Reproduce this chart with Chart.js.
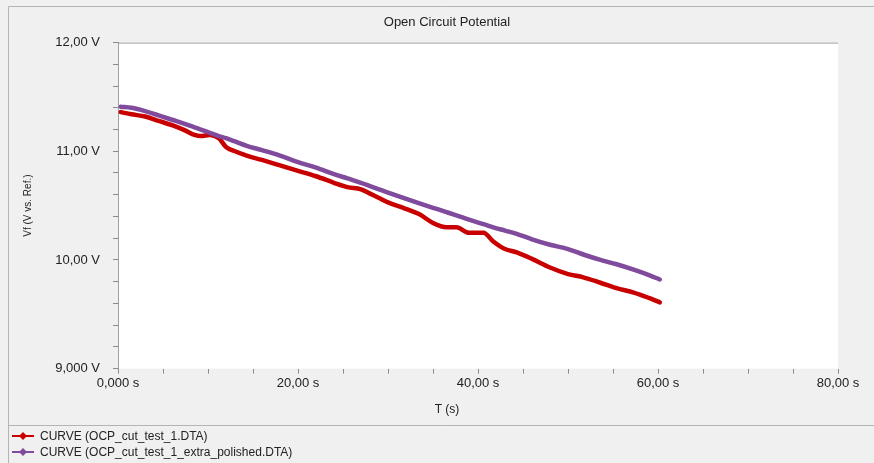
<!DOCTYPE html>
<html lang="en">
<head>
  <meta charset="UTF-8" />
  <title>Open Circuit Potential</title>
  <style>
    body {
      margin: 0;
      background: #f0f0f0;
      font-family: "Liberation Sans", Arial, sans-serif;
    }
    #wrap {
      position: relative;
      width: 874px;
      height: 463px;
    }
    #legend {
      position: absolute;
      left: 12px;
      top: 428px;
      font-size: 12px;
      color: #222;
    }
    .item {
      height: 16px;
      display: flex;
      align-items: center;
    }
    .item svg {
      margin-right: 6px;
    }
  </style>
</head>
<body>
  <div id="wrap">
    <canvas id="chart" width="874" height="463"></canvas>
    <div id="legend"></div>
  </div>

  <script src="https://cdn.jsdelivr.net/npm/chart.js"></script>
  <script>
    const times = [0.3, 1.5, 3, 4.5, 6, 7.5, 8.5, 9.2, 10.2, 11.2, 12, 13, 14.3, 16, 18, 20, 22, 24, 25.5, 27,
                   28, 29, 30, 31.7, 33.5, 35, 36.5, 37.6, 39, 40.6, 41.7, 43, 44.3, 46, 48, 50, 51.7, 53.6, 55.4, 57.3,
                   59, 60.2];
    const cutTest = [11.36, 11.34, 11.32, 11.28, 11.24, 11.19, 11.15, 11.14, 11.15, 11.12, 11.04, 11.00, 10.96, 10.92, 10.87, 10.82, 10.77, 10.71, 10.67, 10.65,
                     10.61, 10.57, 10.53, 10.48, 10.42, 10.34, 10.30, 10.30, 10.25, 10.25, 10.17, 10.10, 10.07, 10.01, 9.93, 9.87, 9.84, 9.79, 9.74, 9.70,
                     9.65, 9.61];
    const extraPolished = [11.41, 11.40, 11.37, 11.33, 11.29, 11.25, 11.22, 11.20, 11.17, 11.14, 11.12, 11.09, 11.05, 11.01, 10.96, 10.90, 10.85, 10.79, 10.75, 10.71,
                           10.68, 10.65, 10.62, 10.57, 10.52, 10.48, 10.44, 10.41, 10.37, 10.33, 10.30, 10.27, 10.24, 10.19, 10.14, 10.10, 10.05, 10.00, 9.96, 9.91,
                           9.86, 9.82];

    const seriesNames = ['CURVE (OCP_cut_test_1.DTA)', 'CURVE (OCP_cut_test_1_extra_polished.DTA)'];
    const seriesColors = ['#c80000', '#804b9c'];

    const yTickValues = [9, 10, 11, 12];
    const yTickLabels = ['9,000 V', '10,00 V', '11,00 V', '12,00 V'];
    const xTickValues = [0, 20, 40, 60, 80];
    const xTickLabels = ['0,000 s', '20,00 s', '40,00 s', '60,00 s', '80,00 s'];

    function labelFor(v, values, labels) {
      const i = values.findIndex(m => Math.abs(m - v) < 1e-6);
      return i >= 0 ? labels[i] : '';
    }

    const toPoints = vals => times.map((t, i) => ({ x: t, y: vals[i] }));

    // grey panel, frame and white plot area
    const backdrop = {
      id: 'backdrop',
      beforeDraw(chart) {
        const { ctx, chartArea: a, width, height } = chart;
        ctx.save();
        ctx.fillStyle = '#f0f0f0';
        ctx.fillRect(0, 0, width, height);
        ctx.strokeStyle = '#b4b4b4';
        ctx.lineWidth = 1;
        ctx.beginPath();
        ctx.moveTo(8.5, height);
        ctx.lineTo(8.5, 6.5);
        ctx.lineTo(width, 6.5);
        ctx.moveTo(8.5, 425.5);
        ctx.lineTo(width, 425.5);
        ctx.stroke();
        ctx.fillStyle = '#fff';
        ctx.fillRect(a.left, a.top, a.right - a.left, a.bottom - a.top);
        ctx.strokeStyle = '#a0a0a0';
        ctx.beginPath();
        ctx.moveTo(a.left, a.top + 0.5);
        ctx.lineTo(a.right, a.top + 0.5);
        ctx.stroke();
        ctx.restore();
      }
    };

    Chart.defaults.font.family = '"Liberation Sans", Arial, sans-serif';
    Chart.defaults.color = '#222';

    const chart = new Chart(document.getElementById('chart'), {
      type: 'scatter',
      data: {
        datasets: [{
          label: seriesNames[0],
          data: toPoints(cutTest),
          borderColor: seriesColors[0],
          backgroundColor: seriesColors[0],
          showLine: true,
          borderWidth: 4.5,
          borderCapStyle: 'round',
          borderJoinStyle: 'round',
          cubicInterpolationMode: 'monotone',
          pointRadius: 0,
          order: 2
        }, {
          label: seriesNames[1],
          data: toPoints(extraPolished),
          borderColor: seriesColors[1],
          backgroundColor: seriesColors[1],
          showLine: true,
          borderWidth: 4.5,
          borderCapStyle: 'round',
          borderJoinStyle: 'round',
          cubicInterpolationMode: 'monotone',
          pointRadius: 0,
          order: 1
        }]
      },
      options: {
        responsive: false,
        animation: false,
        layout: { padding: { left: 20, right: 0, top: 0, bottom: 36 } },
        plugins: {
          legend: { display: false },
          tooltip: { enabled: false },
          title: {
            display: true,
            text: 'Open Circuit Potential',
            font: { size: 13, weight: 'normal' },
            color: '#222',
            padding: { top: 15, bottom: 12 }
          },
          subtitle: {
            display: true,
            position: 'bottom',
            text: 'T (s)',
            font: { size: 12 },
            color: '#222',
            padding: { top: 4, bottom: 10 }
          }
        },
        scales: {
          x: {
            type: 'linear',
            min: 0,
            max: 80,
            border: { display: false },
            grid: { drawOnChartArea: false, tickLength: 5, color: '#8a8a8a' },
            ticks: {
              stepSize: 5,
              autoSkip: false,
              maxRotation: 0,
              padding: 2,
              font: { size: 13 },
              callback: v => labelFor(v, xTickValues, xTickLabels)
            },
            afterFit: s => { s.height = 30; }
          },
          y: {
            min: 9,
            max: 12,
            border: { display: true, color: '#a0a0a0' },
            grid: { drawOnChartArea: false, tickLength: 5, color: '#8a8a8a' },
            title: {
              display: true,
              text: 'Vf (V vs. Ref.)',
              font: { size: 10 },
              color: '#222',
              padding: { top: 2, bottom: 0 }
            },
            ticks: {
              stepSize: 0.2,
              autoSkip: false,
              padding: 13,
              font: { size: 13 },
              callback: v => labelFor(v, yTickValues, yTickLabels)
            },
            afterFit: s => { s.width = 98; }
          },
          right: {
            position: 'right',
            display: true,
            border: { display: false },
            grid: { display: false },
            ticks: { display: false },
            afterFit: s => { s.width = 36; }
          }
        }
      },
      plugins: [backdrop]
    });

    // legend rows: short line with a diamond marker
    const legend = document.getElementById('legend');
    chart.data.datasets.forEach(ds => {
      const row = document.createElement('div');
      row.className = 'item';
      row.innerHTML =
        '<svg width="22" height="10"><line x1="0" y1="5" x2="22" y2="5" stroke="' + ds.borderColor + '" stroke-width="2"/>' +
        '<polygon points="11,1 15,5 11,9 7,5" fill="' + ds.borderColor + '"/></svg>';
      const span = document.createElement('span');
      span.textContent = ds.label;
      row.appendChild(span);
      legend.appendChild(row);
    });
  </script>
</body>
</html>
